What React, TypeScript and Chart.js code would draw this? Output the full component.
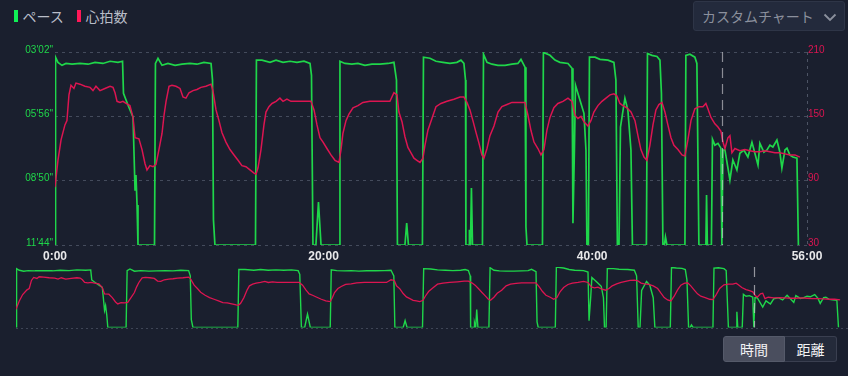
import React, { useEffect, useRef } from "react";
import { Chart, registerables } from "chart.js";

Chart.register(...registerables);

// ---- data (minutes / seconds-per-km / bpm) ----
const paceMinutes = [
  0, 0.04, 0.22, 0.52, 0.82, 1.27, 1.86, 2.46, 2.98, 3.57, 4.1, 4.69, 5.03, 5.1, 5.44, 5.81, 5.96, 6.03, 6.11, 6.18,
  7.41, 7.48, 7.67, 7.97, 8.41, 8.94, 9.46, 10.05, 10.57, 11.09, 11.62, 11.73, 11.8, 11.91,
  14.93, 15.0, 15.41, 16.01, 16.46, 16.98, 17.5, 18.02, 18.54, 18.99, 19.1, 19.21, 19.43, 19.62, 19.81,
  21.15, 21.22, 21.59, 22.11, 22.56, 23.08, 23.6, 24.2, 24.8, 25.24, 25.43, 25.5, 26.06, 26.19, 26.32,
  27.36, 27.44, 27.92, 28.37, 28.89, 29.41, 29.93, 30.23, 30.45, 30.57, 30.6, 30.83, 30.86, 30.94, 31.01, 31.09,
  31.83, 31.91, 32.17, 32.54, 32.99, 33.51, 34.03, 34.47, 34.7, 35.0, 35.07, 35.15,
  36.3, 36.37, 36.86, 37.23, 37.6, 38.2, 38.5, 38.57, 38.68, 38.76, 39.09, 39.39, 39.54, 39.61,
  39.72, 39.8, 40.21, 40.58, 41.18, 41.62, 41.77, 41.88, 42.0, 42.11, 42.44, 42.66, 42.89, 43.0,
  44.04, 44.12, 44.45, 44.83, 45.05, 45.16, 45.27, 45.38, 45.46, 45.57,
  46.91, 46.98, 47.28, 47.65, 47.8, 47.95, 48.47, 48.52, 48.58,
  48.88, 48.96, 49.14, 49.37, 49.59, 49.66, 49.74, 49.89, 50.26, 50.48, 50.78, 51.0, 51.3, 51.6, 51.9,
  52.12, 52.35, 52.49, 52.79, 53.02, 53.24, 53.46, 53.76, 53.98, 54.13, 54.36, 54.51, 54.73, 54.95, 55.25, 55.36,
];
const paceSeconds = [
  704, 196, 210, 218, 213, 215, 213, 215, 210, 213, 207, 210, 207, 294, 326, 358, 555, 515, 596, 704,
  704, 213, 199, 218, 213, 218, 215, 213, 215, 210, 213, 258, 636, 704,
  704, 204, 204, 210, 204, 210, 207, 210, 207, 213, 245, 704, 704, 588, 704,
  704, 207, 213, 215, 213, 218, 215, 215, 213, 210, 258, 704, 704, 645, 704,
  704, 196, 199, 207, 210, 213, 210, 204, 213, 258, 704, 704, 663, 704, 550, 704,
  704, 188, 210, 215, 218, 218, 215, 213, 202, 223, 655, 704,
  704, 183, 191, 204, 210, 213, 226, 645, 447, 272, 312, 348, 447, 704,
  704, 196, 196, 202, 204, 210, 258, 704, 704, 385, 307, 339, 447, 704,
  704, 186, 191, 194, 204, 294, 704, 704, 682, 704,
  704, 191, 188, 196, 213, 704, 704, 569, 704,
  704, 418, 434, 429, 442, 704, 447, 447, 528, 474, 501, 456, 447, 466, 426,
  456, 488, 429, 453, 447, 434, 439, 420, 453, 496, 447, 442, 461, 466, 469, 704,
];
const hrMinutes = [
  0, 0.22, 0.45, 0.74, 0.89, 1.04, 1.19, 1.41, 1.56, 1.86, 2.23, 2.61, 2.83, 3.05, 3.35, 3.72, 4.1, 4.32, 4.47, 4.62,
  4.84, 5.06, 5.29, 5.58, 5.81, 5.96, 6.25, 6.48, 6.7, 6.85, 7.07, 7.3, 7.52, 7.74, 7.97, 8.12, 8.27, 8.49, 8.71, 9.01,
  9.31, 9.53, 9.75, 9.98, 10.28, 10.57, 10.87, 11.24, 11.62, 11.76, 11.99, 12.21, 12.43, 12.73, 13.03, 13.33, 13.63, 13.92, 14.22, 14.52,
  14.82, 14.97, 15.12, 15.34, 15.56, 15.71, 15.93, 16.16, 16.46, 16.75, 16.98, 17.27, 17.57, 17.95, 18.24, 18.61, 19.06, 19.29, 19.51, 19.73,
  19.96, 20.25, 20.55, 20.85, 21.15, 21.3, 21.44, 21.67, 21.89, 22.19, 22.56, 22.93, 23.45, 23.98, 24.5, 24.94, 25.24, 25.47, 25.61, 25.84,
  26.06, 26.28, 26.51, 26.73, 26.95, 27.18, 27.4, 27.55, 27.77, 28.07, 28.37, 28.74, 29.19, 29.71, 30.16, 30.45, 30.68, 30.9, 31.12, 31.35,
  31.57, 31.79, 31.94, 32.17, 32.39, 32.69, 32.99, 33.28, 33.66, 34.03, 34.47, 35.0, 35.22, 35.44, 35.67, 35.96, 36.19, 36.41, 36.63, 36.86,
  37.15, 37.45, 37.83, 38.2, 38.5, 38.72, 38.94, 39.17, 39.39, 39.69, 39.91, 40.13, 40.43, 40.73, 41.03, 41.33, 41.62, 41.85, 42.07, 42.29,
  42.59, 42.89, 43.19, 43.41, 43.63, 43.86, 44.08, 44.3, 44.53, 44.75, 44.97, 45.2, 45.42, 45.64, 45.87, 46.09, 46.39, 46.69, 46.91, 47.13,
  47.36, 47.65, 47.95, 48.25, 48.47, 48.62, 48.85, 49.14, 49.37, 49.59, 49.74, 49.89, 50.11, 50.26, 50.41, 50.63, 51.0, 51.38, 51.75, 52.12,
  52.49, 52.87, 53.24, 53.61, 53.98, 54.36, 54.73, 55.1, 55.47,
];
const hrBpm = [
  84, 109, 128, 142, 146, 170, 179, 176, 181, 180, 178, 177, 174, 178, 174, 176, 178, 177, 172, 164,
  163, 164, 162, 160, 149, 130, 129, 119, 106, 100, 104, 103, 105, 119, 134, 151, 164, 178, 179, 178,
  176, 168, 167, 172, 174, 175, 177, 178, 180, 174, 156, 146, 135, 126, 119, 114, 109, 104, 103, 100,
  97, 96, 102, 119, 142, 154, 159, 162, 164, 167, 164, 166, 164, 164, 164, 164, 164, 156, 142, 130,
  126, 120, 114, 109, 107, 119, 134, 146, 152, 158, 160, 163, 164, 164, 164, 164, 172, 170, 154, 145,
  131, 121, 116, 111, 109, 107, 111, 123, 137, 148, 159, 162, 164, 166, 168, 168, 163, 156, 146, 135,
  125, 114, 111, 120, 132, 141, 154, 159, 161, 163, 163, 163, 151, 137, 126, 120, 114, 119, 137, 149,
  158, 162, 164, 167, 164, 151, 148, 150, 145, 141, 146, 154, 160, 164, 167, 170, 171, 169, 162, 160,
  158, 154, 146, 132, 119, 112, 109, 123, 142, 156, 161, 163, 154, 142, 130, 123, 119, 114, 113, 128,
  146, 157, 159, 159, 162, 157, 149, 143, 140, 136, 126, 120, 130, 132, 116, 120, 118, 119, 118, 117,
  117, 118, 117, 116, 116, 115, 114, 114, 112,
];

const xTicks = [0, 20, 40, 56];
const paceTicks = [182, 356, 530, 704];
const hrTicks = [30, 90, 150, 210];
const markerMinute = 49.67;
const legendLabels = ["ペース", "心拍数"];
const dropdownLabel = "カスタムチャート";
const toggleLabels = ["時間", "距離"];

// ---- styles ----
const BG = "#1a1f2e";
const GREEN = "#1fd64a";
const RED = "#dc1551";
const LEGEND_GREEN = "#10f055";
const LEGEND_RED = "#ff1858";
const FONT = '"Liberation Sans", Arial, sans-serif';
const CJK = '"Noto Sans CJK JP", "Noto Sans", sans-serif';

const pad2 = (n: number) => String(n).padStart(2, "0");
const fmtTime = (v: number) => {
  const total = Math.round(v * 60);
  return `${Math.floor(total / 60)}:${pad2(total % 60)}`;
};
const fmtPace = (s: number) => `${pad2(Math.floor(s / 60))}'${pad2(Math.round(s % 60))}"`;

const paceData = () => paceMinutes.map((m, i) => ({ x: m, y: paceSeconds[i] }));
const hrData = () => hrMinutes.map((m, i) => ({ x: m, y: hrBpm[i] }));

const overlayPlugin = {
  id: "overlay",
  afterDatasetsDraw(chart: any, _args: any, opts: any) {
    const { ctx, chartArea, scales } = chart;
    ctx.save();
    if (opts.rightDots) {
      ctx.strokeStyle = "rgba(120,128,148,0.55)";
      ctx.lineWidth = 1;
      ctx.setLineDash([3, 4]);
      ctx.beginPath();
      ctx.moveTo(Math.round(chartArea.right) + 0.5, chartArea.top);
      ctx.lineTo(Math.round(chartArea.right) + 0.5, chartArea.bottom);
      ctx.stroke();
    }
    if (opts.bottomDots) {
      ctx.strokeStyle = "rgba(120,128,148,0.4)";
      ctx.lineWidth = 1;
      ctx.setLineDash([2, 3]);
      ctx.beginPath();
      ctx.moveTo(chartArea.left, Math.round(chartArea.bottom) + 0.5);
      ctx.lineTo(chartArea.right, Math.round(chartArea.bottom) + 0.5);
      ctx.stroke();
    }
    const x = Math.round(scales.x.getPixelForValue(opts.marker)) + 0.5;
    ctx.strokeStyle = opts.markerColor;
    ctx.lineWidth = 1.2;
    ctx.setLineDash(opts.markerDash);
    ctx.beginPath();
    ctx.moveTo(x, chartArea.top);
    ctx.lineTo(x, chartArea.bottom);
    ctx.stroke();
    ctx.restore();
  },
};

function datasets(greenWidth: number, redWidth: number) {
  return [
    {
      label: legendLabels[1],
      data: hrData(),
      yAxisID: "y1",
      borderColor: RED,
      borderWidth: redWidth,
      pointRadius: 0,
      tension: 0,
    },
    {
      label: legendLabels[0],
      data: paceData(),
      yAxisID: "y",
      borderColor: GREEN,
      borderWidth: greenWidth,
      pointRadius: 0,
      tension: 0,
    },
  ];
}

export default function App() {
  const mainRef = useRef<HTMLCanvasElement>(null);
  const navRef = useRef<HTMLCanvasElement>(null);

  useEffect(() => {
    document.body.style.margin = "0";
    document.body.style.background = BG;
    const main = new Chart(mainRef.current as HTMLCanvasElement, {
      type: "line",
      data: { datasets: datasets(1.7, 1.5) as any },
      plugins: [overlayPlugin as any],
      options: {
        animation: false,
        responsive: false,
        events: [],
        layout: { padding: { top: 12, left: 0, right: 0, bottom: 0 } },
        plugins: {
          legend: { display: false },
          tooltip: { enabled: false },
          overlay: { marker: markerMinute, markerColor: "rgba(200,200,205,0.65)", markerDash: [10, 6], rightDots: true },
        } as any,
        scales: {
          x: {
            type: "linear",
            min: 0,
            max: 56,
            afterBuildTicks: (s: any) => {
              s.ticks = xTicks.map((v) => ({ value: v }));
            },
            afterFit: (s: any) => {
              s.height = 25;
            },
            ticks: {
              callback: (v: any) => fmtTime(Number(v)),
              color: "#e8e8ea",
              font: { family: FONT, size: 12, weight: "bold" },
              padding: 4,
              maxRotation: 0,
              autoSkip: false,
            },
            grid: { display: false, drawTicks: false },
            border: { display: false },
          },
          y: {
            position: "left",
            reverse: true,
            min: 182,
            max: 704,
            afterBuildTicks: (s: any) => {
              s.ticks = paceTicks.map((v) => ({ value: v }));
            },
            afterFit: (s: any) => {
              s.width = 55;
            },
            ticks: {
              callback: (v: any) => fmtPace(Number(v)),
              color: GREEN,
              font: { family: FONT, size: 10 },
              padding: 2,
              labelOffset: -2,
              autoSkip: false,
            },
            grid: { color: "rgba(120,128,148,0.45)", drawTicks: false, lineWidth: 1 },
            border: { display: false, dash: [3, 4] },
          },
          y1: {
            position: "right",
            min: 30,
            max: 210,
            afterBuildTicks: (s: any) => {
              s.ticks = hrTicks.map((v) => ({ value: v }));
            },
            afterFit: (s: any) => {
              s.width = 41;
            },
            ticks: {
              color: RED,
              font: { family: FONT, size: 10 },
              padding: 1,
              labelOffset: -2,
              autoSkip: false,
            },
            grid: { display: false, drawTicks: false },
            border: { display: false },
          },
        },
      } as any,
    });

    const nav = new Chart(navRef.current as HTMLCanvasElement, {
      type: "line",
      data: { datasets: datasets(1.4, 1.3) as any },
      plugins: [overlayPlugin as any],
      options: {
        animation: false,
        responsive: false,
        events: [],
        layout: { padding: { top: 5, left: 16, right: 0, bottom: 4.5 } },
        plugins: {
          legend: { display: false },
          tooltip: { enabled: false },
          overlay: { marker: markerMinute, markerColor: "rgba(200,200,205,0.7)", markerDash: [10, 8], bottomDots: true },
        } as any,
        scales: {
          x: { type: "linear", min: 0, max: 56, display: false },
          y: { reverse: true, min: 182, max: 704, display: false },
          y1: { min: 30, max: 210, display: false },
        },
      } as any,
    });

    return () => {
      main.destroy();
      nav.destroy();
    };
  }, []);

  const legendItem = (color: string, text: string, left: number) => (
    <div style={{ position: "absolute", left, top: 4, height: 24, display: "flex", alignItems: "center" }}>
      <div style={{ width: 3.5, height: 12, background: color, marginRight: 5 }} />
      <span style={{ color: "#b9bdc8", fontFamily: CJK, fontSize: 14, lineHeight: "24px" }}>{text}</span>
    </div>
  );

  return (
    <div
      style={{
        position: "fixed",
        left: 0,
        top: 0,
        width: 848,
        height: 376,
        background: BG,
        overflow: "hidden",
      }}
    >
      {legendItem(LEGEND_GREEN, legendLabels[0], 14)}
      {legendItem(LEGEND_RED, legendLabels[1], 77)}

      <div
        style={{
          position: "absolute",
          left: 693,
          top: 1,
          width: 152,
          height: 30,
          boxSizing: "border-box",
          background: "#232a3c",
          border: "1px solid #2e3547",
          borderRadius: 3,
          display: "flex",
          alignItems: "center",
        }}
      >
        <span style={{ marginLeft: 8, color: "#8b909d", fontFamily: CJK, fontSize: 14, whiteSpace: "nowrap" }}>
          {dropdownLabel}
        </span>
        <svg width="14" height="9" viewBox="0 0 14 9" style={{ position: "absolute", left: 129, top: 11 }}>
          <polyline points="1.5,1.5 7,7 12.5,1.5" fill="none" stroke="#8b909d" strokeWidth="1.8" />
        </svg>
      </div>

      <canvas ref={mainRef} width={848} height={230} style={{ position: "absolute", left: 0, top: 40 }} />
      <canvas ref={navRef} width={848} height={70} style={{ position: "absolute", left: 0, top: 262 }} />

      <div
        style={{
          position: "absolute",
          left: 723,
          top: 336,
          width: 114,
          height: 26,
          display: "flex",
          fontFamily: CJK,
          fontSize: 14,
        }}
      >
        <div
          style={{
            width: 62,
            height: 26,
            boxSizing: "border-box",
            background: "#4a4e5e",
            border: "1px solid #555a6a",
            borderRadius: "3px 0 0 3px",
            color: "#f2f2f4",
            display: "flex",
            alignItems: "center",
            justifyContent: "center",
          }}
        >
          {toggleLabels[0]}
        </div>
        <div
          style={{
            width: 52,
            height: 26,
            boxSizing: "border-box",
            background: "#242a3a",
            border: "1px solid #3a3f50",
            borderLeft: "none",
            borderRadius: "0 3px 3px 0",
            color: "#f2f2f4",
            display: "flex",
            alignItems: "center",
            justifyContent: "center",
          }}
        >
          {toggleLabels[1]}
        </div>
      </div>
    </div>
  );
}
